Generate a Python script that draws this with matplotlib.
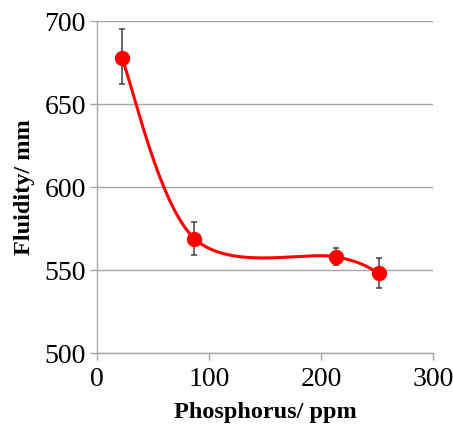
import numpy as np
import matplotlib
matplotlib.use("Agg")
import matplotlib.pyplot as plt

# data
phosphorus = [22, 87, 213, 252]
fluidity = [678, 569, 558, 548]
err_low = [16, 10, 5, 9]
err_high = [17, 10, 5, 9]

plt.rcParams["font.family"] = ["Liberation Serif", "DejaVu Serif"]


def excel_smooth(x, y, n=60):
    """Bezier smoothing like Excel's smoothed line (Catmull-Rom, tension 1/6)"""
    pts = np.column_stack([x, y]).astype(float)
    padded = np.vstack([pts[0], pts, pts[-1]])
    out = []
    t = np.linspace(0, 1, n)[:, None]
    for i in range(1, len(padded) - 2):
        p0, p1, p2, p3 = padded[i - 1], padded[i], padded[i + 1], padded[i + 2]
        c1 = p1 + (p2 - p0) / 6
        c2 = p2 - (p3 - p1) / 6
        seg = ((1 - t) ** 3) * p1 + 3 * ((1 - t) ** 2) * t * c1 + 3 * (1 - t) * t ** 2 * c2 + t ** 3 * p2
        out.append(seg)
    out = np.vstack(out)
    return out[:, 0], out[:, 1]


fig = plt.figure(figsize=(4.53, 4.30), dpi=100)
ax = fig.add_axes([0.214, 0.179, 0.742, 0.772])

sx, sy = excel_smooth(phosphorus, fluidity)
ax.plot(sx, sy, color="#ff0000", lw=2.2, zorder=3)
ax.errorbar(phosphorus, fluidity, yerr=[err_low, err_high], fmt="none",
            ecolor="#404040", elinewidth=1.1, capsize=2.5, capthick=1.1, zorder=2)
ax.plot(phosphorus, fluidity, "o", color="#ff0000", markersize=10, zorder=4)

ax.set_xlim(0, 300)
ax.set_ylim(500, 700)
ax.set_xticks([0, 100, 200, 300])
ax.set_yticks([500, 550, 600, 650, 700])
ax.yaxis.grid(True, color="#a6a6a6", lw=1)
ax.set_axisbelow(True)

for s in ["top", "right"]:
    ax.spines[s].set_visible(False)
for s in ["left", "bottom"]:
    ax.spines[s].set_color("#a6a6a6")
    ax.spines[s].set_linewidth(1)
ax.tick_params(axis="both", direction="out", length=5, width=1, color="#a6a6a6",
               labelsize=20, pad=3)
ax.tick_params(axis="x", pad=5)

ax.set_xlabel("Phosphorus/ ppm", fontsize=17.5, fontweight="bold", labelpad=7)
ax.set_ylabel("Fluidity/ mm", fontsize=17.5, fontweight="bold", labelpad=7)

fig.savefig("out.png", dpi=100)
